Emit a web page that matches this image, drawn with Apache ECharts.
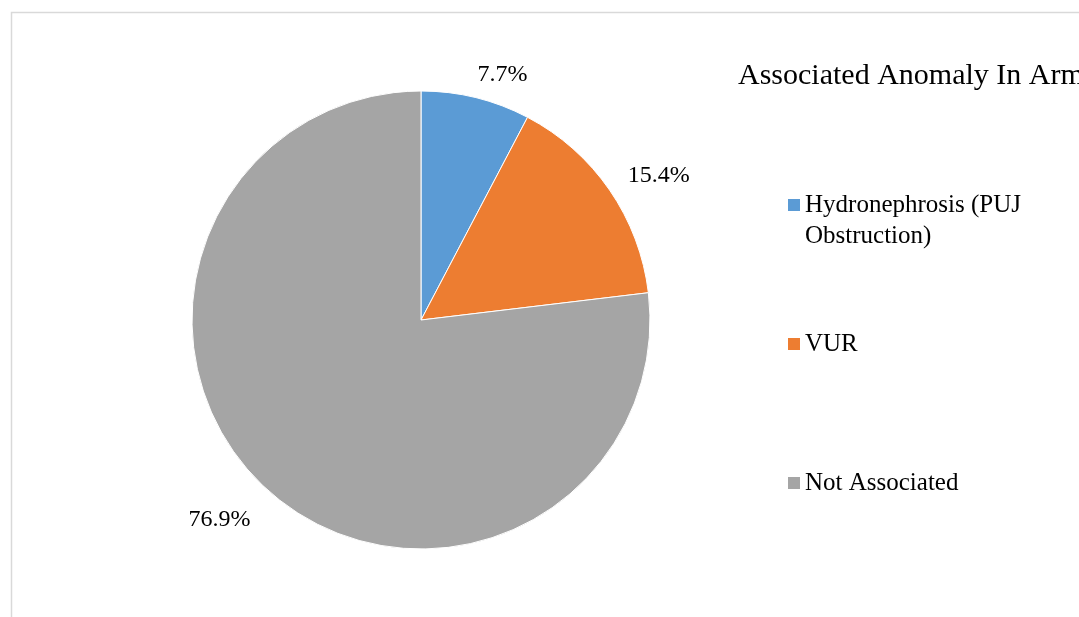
<!DOCTYPE html>
<html>
<head>
<meta charset="utf-8">
<style>
  html, body { margin: 0; padding: 0; background: #fff; }
  #chart { width: 1079px; height: 617px; }
</style>
<script src="https://cdn.jsdelivr.net/npm/echarts@6/dist/echarts.min.js"></script>
</head>
<body>
<div id="chart"></div>
<script>
// Associated anomaly shares (percent of cases)
const titleText = 'Associated Anomaly In Arm';
const categories = ['Hydronephrosis (PUJ\nObstruction)', 'VUR', 'Not Associated'];
const percentages = [7.7, 15.4, 76.9];
const sliceColors = ['#5B9BD5', '#ED7D31', '#A5A5A5'];

const serif = '"Liberation Serif", "Times New Roman", serif';
const chart = echarts.init(document.getElementById('chart'));

// one legend block per category so each row sits at its own height;
// a wrapped name gets a blank first line so its first line lines up with the swatch
const legendTops = [158.5, 328.5, 467.5];
const legends = categories.map((name, i) => ({
  orient: 'vertical',
  left: 788,
  top: legendTops[i],
  padding: 0,
  itemWidth: 12,
  itemHeight: 12,
  itemGap: 0,
  icon: 'rect',
  selectedMode: false,
  itemStyle: { borderWidth: 0 },
  formatter: n => (n.indexOf('\n') >= 0 ? '\n' + n : n),
  textStyle: {
    fontFamily: serif,
    fontSize: 25,
    lineHeight: 31,
    color: '#000'
  },
  data: [name]
}));

// small nudges of the outside labels: [dx, dy] per slice
const labelNudge = [[-5, 4], [-5, 1], [0, 7]];

chart.setOption({
  backgroundColor: '#fff',
  animation: false,
  color: sliceColors,
  title: {
    text: titleText,
    left: 738,
    top: 61,
    padding: 0,
    textStyle: { fontFamily: serif, fontSize: 30, fontWeight: 'normal', color: '#000' }
  },
  legend: legends,
  graphic: [{
    type: 'rect',
    shape: { x: 11.5, y: 12.5, width: 1200, height: 800 },
    style: { fill: 'none', stroke: '#d9d9d9', lineWidth: 1.5 },
    silent: true
  }],
  series: [{
    type: 'pie',
    center: [421, 320],
    radius: 229,
    startAngle: 90,
    clockwise: true,
    avoidLabelOverlap: false,
    itemStyle: { borderColor: '#fff', borderWidth: 1 },
    label: {
      show: true,
      position: 'outside',
      fontFamily: serif,
      fontSize: 24,
      color: '#000',
      distanceToLabelLine: 0,
      formatter: p => p.value.toFixed(1) + '%'
    },
    labelLine: { show: false, length: 28, length2: 0 },
    labelLayout: p => ({ dx: labelNudge[p.dataIndex][0], dy: labelNudge[p.dataIndex][1] }),
    emphasis: { disabled: true },
    data: categories.map((name, i) => ({ name, value: percentages[i] }))
  }]
});
</script>
</body>
</html>
